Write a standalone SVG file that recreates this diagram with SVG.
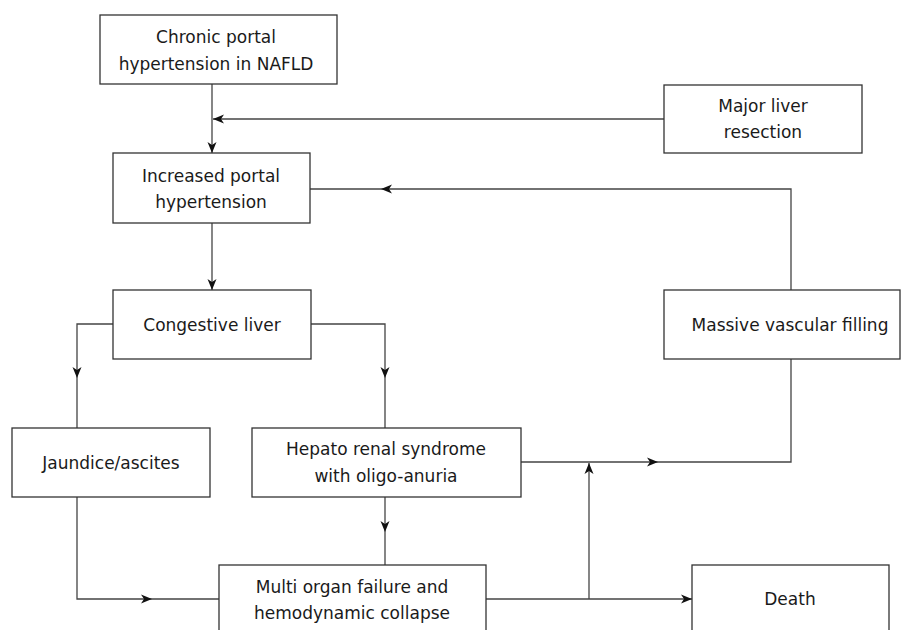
<svg xmlns="http://www.w3.org/2000/svg" xmlns:xlink="http://www.w3.org/1999/xlink" width="909" height="630" viewBox="0 0 909 630">
<style>
.box{fill:#fff;stroke:#333;stroke-width:1.3}
.t{font-family:"DejaVu Sans",Verdana,sans-serif;font-size:17px;fill:#1a1a1a;text-anchor:middle}
.c{fill:none;stroke:#444;stroke-width:1.3}
.ah{fill:#111}
</style>
<defs>
<path id="ah" d="M-11,-4.5 L0,0 L-11,4.5 L-8,0 Z"/>
</defs>
<rect width="909" height="630" fill="#fff"/>
<g id="connectors">
<path class="c" d="M212,84 V153"/>
<path class="c" d="M664,119 H213"/>
<path class="c" d="M212,223 V290"/>
<path class="c" d="M791,290 V189 H310"/>
<path class="c" d="M113,324 H77 V428"/>
<path class="c" d="M311,324 H385 V428"/>
<path class="c" d="M385,497 V565"/>
<path class="c" d="M77,497 V599 H219"/>
<path class="c" d="M486,599 H692"/>
<path class="c" d="M589,599 V463"/>
<path class="c" d="M521,462 H791 V359"/>
<g class="ah">
<use xlink:href="#ah" transform="translate(212,153) rotate(90)"/>
<use xlink:href="#ah" transform="translate(213,119) rotate(180)"/>
<use xlink:href="#ah" transform="translate(212,290) rotate(90)"/>
<use xlink:href="#ah" transform="translate(381,189) rotate(180)"/>
<use xlink:href="#ah" transform="translate(77,378) rotate(90)"/>
<use xlink:href="#ah" transform="translate(385,378) rotate(90)"/>
<use xlink:href="#ah" transform="translate(385,532) rotate(90)"/>
<use xlink:href="#ah" transform="translate(152,599)"/>
<use xlink:href="#ah" transform="translate(692,599)"/>
<use xlink:href="#ah" transform="translate(589,463) rotate(-90)"/>
<use xlink:href="#ah" transform="translate(658,462)"/>
</g>
</g>
<g id="chronic">
<rect class="box" x="100" y="15" width="237" height="69"/>
<text class="t" x="216" y="43">Chronic portal</text>
<text class="t" x="216" y="70">hypertension in NAFLD</text>
</g>
<g id="major">
<rect class="box" x="664" y="85" width="198" height="68"/>
<text class="t" x="763" y="112">Major liver</text>
<text class="t" x="763" y="138">resection</text>
</g>
<g id="increased">
<rect class="box" x="113" y="153" width="197" height="70"/>
<text class="t" x="211" y="182">Increased portal</text>
<text class="t" x="211" y="208">hypertension</text>
</g>
<g id="congestive">
<rect class="box" x="113" y="290" width="198" height="69"/>
<text class="t" x="212" y="331">Congestive liver</text>
</g>
<g id="massive">
<rect class="box" x="664" y="290" width="236" height="69"/>
<text class="t" x="790" y="331">Massive vascular filling</text>
</g>
<g id="jaundice">
<rect class="box" x="12" y="428" width="198" height="69"/>
<text class="t" x="111" y="469">Jaundice/ascites</text>
</g>
<g id="hepato">
<rect class="box" x="252" y="428" width="269" height="69"/>
<text class="t" x="386" y="455">Hepato renal syndrome</text>
<text class="t" x="386" y="482">with oligo-anuria</text>
</g>
<g id="multi">
<rect class="box" x="219" y="565" width="267" height="70"/>
<text class="t" x="352" y="593">Multi organ failure and</text>
<text class="t" x="352" y="619">hemodynamic collapse</text>
</g>
<g id="death">
<rect class="box" x="692" y="565" width="197" height="70"/>
<text class="t" x="790" y="605">Death</text>
</g>
</svg>
